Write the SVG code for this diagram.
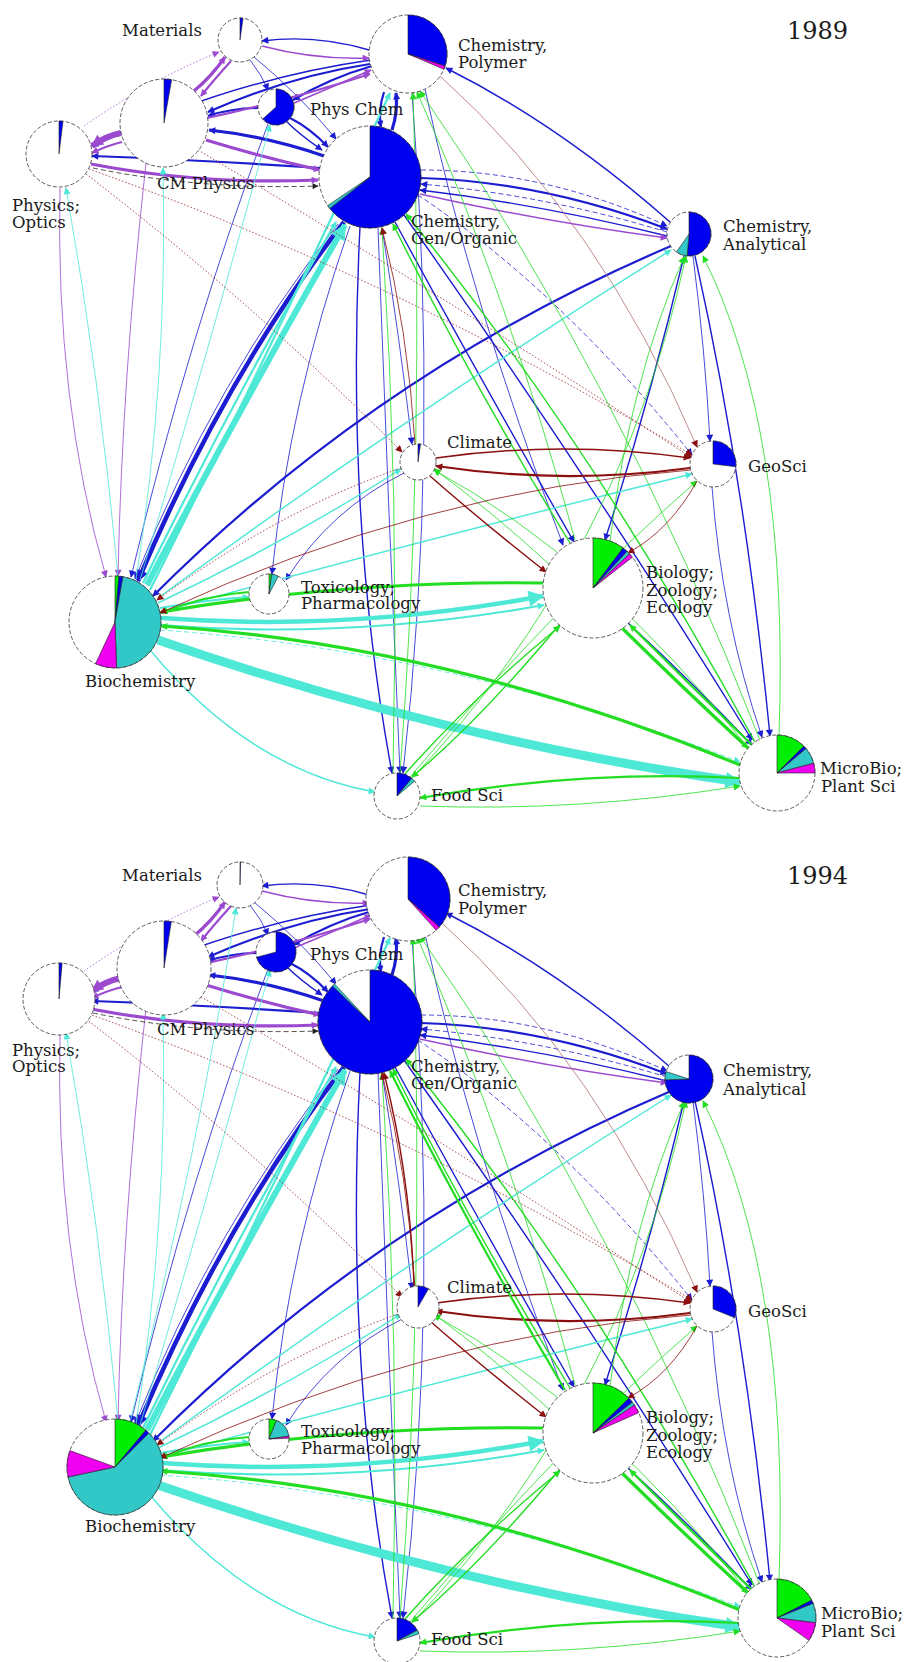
<svg xmlns="http://www.w3.org/2000/svg" xmlns:xlink="http://www.w3.org/1999/xlink" width="907" height="1662" viewBox="0 0 907 1662">
<style>
.bg{fill:#fff}
.nc{fill:#fff;stroke:#333;stroke-width:0.8;stroke-dasharray:4 2}
.sl{stroke:#222;stroke-width:0.6;stroke-linejoin:round}
.sB{fill:#0000f0}.sG{fill:#00ee00}.sT{fill:#33c8c8}.sM{fill:#f000f0}
text{font-family:"DejaVu Serif","Liberation Serif",serif;font-size:16.5px;fill:#1a1a1a}
.yr{font-size:24px}
.e{fill:none}
.w1{stroke-width:0.8}.w2{stroke-width:1.4}.w3{stroke-width:2.2}.w4{stroke-width:3.2}.w5{stroke-width:4.5}.w6{stroke-width:6}.w8{stroke-width:9}
.d{stroke-dasharray:5 3}.o{stroke-dasharray:1.5 2}
.b{stroke:#1c1cd0;marker-end:url(#mb)}.b.L{marker-end:url(#mbL)}
.p{stroke:#9b4ad0;marker-end:url(#mp)}.p.L{marker-end:url(#mpL)}
.t{stroke:#4de8d6;marker-end:url(#mt)}.t.L{marker-end:url(#mtL)}
.g{stroke:#22dd22;marker-end:url(#mg)}.g.L{marker-end:url(#mgL)}
.r{stroke:#8b0f0f;marker-end:url(#mr)}
.rl{stroke:#b07070;marker-end:url(#mr)}
.k{stroke:#222;marker-end:url(#mk)}
</style>
<defs>
<marker id="mb" viewBox="0 0 10 10" refX="9" refY="5" markerWidth="9" markerHeight="7" markerUnits="userSpaceOnUse" orient="auto"><path d="M0,0L10,5L0,10z" fill="#1c1cd0"/></marker>
<marker id="mbL" viewBox="0 0 10 10" refX="9" refY="5" markerWidth="16" markerHeight="12" markerUnits="userSpaceOnUse" orient="auto"><path d="M0,0L10,5L0,10z" fill="#1c1cd0"/></marker>
<marker id="mp" viewBox="0 0 10 10" refX="9" refY="5" markerWidth="9" markerHeight="7" markerUnits="userSpaceOnUse" orient="auto"><path d="M0,0L10,5L0,10z" fill="#9b4ad0"/></marker>
<marker id="mpL" viewBox="0 0 10 10" refX="9" refY="5" markerWidth="16" markerHeight="12" markerUnits="userSpaceOnUse" orient="auto"><path d="M0,0L10,5L0,10z" fill="#9b4ad0"/></marker>
<marker id="mt" viewBox="0 0 10 10" refX="9" refY="5" markerWidth="9" markerHeight="7" markerUnits="userSpaceOnUse" orient="auto"><path d="M0,0L10,5L0,10z" fill="#4de8d6"/></marker>
<marker id="mtL" viewBox="0 0 10 10" refX="9" refY="5" markerWidth="20" markerHeight="16" markerUnits="userSpaceOnUse" orient="auto"><path d="M0,0L10,5L0,10z" fill="#4de8d6"/></marker>
<marker id="mg" viewBox="0 0 10 10" refX="9" refY="5" markerWidth="9" markerHeight="7" markerUnits="userSpaceOnUse" orient="auto"><path d="M0,0L10,5L0,10z" fill="#22dd22"/></marker>
<marker id="mgL" viewBox="0 0 10 10" refX="9" refY="5" markerWidth="16" markerHeight="12" markerUnits="userSpaceOnUse" orient="auto"><path d="M0,0L10,5L0,10z" fill="#22dd22"/></marker>
<marker id="mr" viewBox="0 0 10 10" refX="9" refY="5" markerWidth="9" markerHeight="7" markerUnits="userSpaceOnUse" orient="auto"><path d="M0,0L10,5L0,10z" fill="#8b0f0f"/></marker>
<marker id="mk" viewBox="0 0 10 10" refX="9" refY="5" markerWidth="8" markerHeight="6" markerUnits="userSpaceOnUse" orient="auto"><path d="M0,0L10,5L0,10z" fill="#222"/></marker>
</defs>
<rect class="bg" x="0" y="0" width="907" height="1662"/>

<g id="panel-1989">
<g id="connectors-1989">
<path class="e b w2" d="M369,50 Q315,34 262,41"/>
<path class="e b w3" d="M370,64 Q290,76 208,112"/>
<path class="e b w2" d="M371,60 Q230,80 92,146"/>
<path class="e b w4" d="M324,156 Q265,136 209,130"/>
<path class="e b w3" d="M320,168 Q200,160 92,156"/>
<path class="e b w3" d="M258,108 Q232,108 208,116"/>
<path class="e b w3" d="M290,118 Q310,128 328,147"/>
<path class="e b w2" d="M286,121 Q300,135 322,150"/>
<path class="e b w4" d="M392,130 Q398,112 396,93"/>
<path class="e b w3" d="M384,92 Q378,110 381,127"/>
<path class="e b w3" d="M372,66 Q330,78 293,100"/>
<path class="e b w1" d="M254,57 Q300,95 336,139"/>
<path class="e b w1" d="M250,60 Q262,75 268,90"/>
<path class="e b w3" d="M421,178 Q545,182 667,229"/>
<path class="e b w2" d="M667,236 Q545,205 420,190"/>
<path class="e b w2" d="M670,222 Q560,125 446,68"/>
<path class="e b w5 L" d="M344,222 Q225,375 138,581"/>
<path class="e b w1" d="M338,224 Q215,380 135,579"/>
<path class="e b w1" d="M268,124 Q190,330 131,577"/>
<path class="e b w3" d="M671,246 Q378,371 153,596"/>
<path class="e b w1" d="M350,226 Q289,401 272,574"/>
<path class="e b w2" d="M360,227 Q345,520 392,773"/>
<path class="e b w1" d="M378,228 Q388,500 400,773"/>
<path class="e b w1" d="M412,93 Q440,450 403,773"/>
<path class="e b w2" d="M395,222 Q478,375 574,542"/>
<path class="e b w1" d="M425,89 Q470,300 563,545"/>
<path class="e b w2" d="M684,256 Q650,400 605,540"/>
<path class="e b w2" d="M404,215 Q585,470 752,740"/>
<path class="e b w2" d="M695,256 Q745,480 770,736"/>
<path class="e b w1" d="M712,487 Q722,620 762,737"/>
<path class="e b w2" d="M628,623 Q690,680 752,745"/>
<path class="e b w1" d="M693,256 Q705,350 710,441"/>
<path class="e b w1" d="M404,473 Q330,510 286,580"/>
<path class="e b w1 d" d="M418,195 Q560,290 692,455"/>
<path class="e b w1 d" d="M421,170 Q545,170 667,226"/>
<path class="e b w1 d" d="M667,232 Q545,195 421,184"/>
<path class="e b w1" d="M382,228 Q400,340 412,444"/>
<path class="e p w2" d="M262,46 Q315,60 369,58"/>
<path class="e p w4" d="M194,91 Q212,76 225,57"/>
<path class="e p w3" d="M231,61 Q212,82 201,96"/>
<path class="e p w6 L" d="M121,133 Q106,136 92,146"/>
<path class="e p w3" d="M122,142 Q106,146 92,153"/>
<path class="e p w4" d="M91,164 Q200,185 318,180"/>
<path class="e p w4" d="M206,140 Q265,158 320,170"/>
<path class="e p w3" d="M207,118 Q290,100 370,74"/>
<path class="e p w2" d="M294,103 Q330,88 371,70"/>
<path class="e p w2" d="M420,194 Q545,222 667,238"/>
<path class="e p w1" d="M60,188 Q55,400 106,577"/>
<path class="e p w1" d="M146,163 Q122,380 118,576"/>
<path class="e p w1 o" d="M84,126 Q150,80 219,52"/>
<path class="e k w1 d" d="M93,168 Q200,190 318,186"/>
<path class="e t w6 L" d="M147,585 Q250,390 345,225"/>
<path class="e t w3" d="M143,583 Q235,395 336,222"/>
<path class="e t w3" d="M150,590 Q280,330 390,93"/>
<path class="e t w1" d="M140,580 Q200,380 270,125"/>
<path class="e t w1" d="M136,579 Q168,380 163,168"/>
<path class="e t w1" d="M118,576 Q100,380 66,188"/>
<path class="e t w8 L" d="M158,640 Q450,741 740,782"/>
<path class="e t w2" d="M150,650 Q250,770 375,792"/>
<path class="e t w5 L" d="M161,618 Q350,632 543,596"/>
<path class="e t w3" d="M160,625 Q350,640 544,605"/>
<path class="e t w3" d="M160,608 Q205,600 249,597"/>
<path class="e t w2" d="M158,603 Q290,540 401,469"/>
<path class="e t w2" d="M160,612 Q420,540 692,474"/>
<path class="e t w2" d="M158,598 Q400,420 671,250"/>
<path class="e t w1 d" d="M160,630 Q450,650 740,762"/>
<path class="e g w4" d="M543,583 Q350,580 161,612"/>
<path class="e g w3" d="M249,592 Q205,595 161,613"/>
<path class="e g w4" d="M740,765 Q450,645 161,626"/>
<path class="e g w4" d="M622,628 Q685,690 748,748"/>
<path class="e g w3" d="M752,745 Q690,685 630,625"/>
<path class="e g w2" d="M570,543 Q470,380 393,224"/>
<path class="e g w2" d="M755,742 Q590,440 406,214"/>
<path class="e g w1" d="M760,740 Q620,380 420,91"/>
<path class="e g w1" d="M575,540 Q510,300 417,92"/>
<path class="e g w1" d="M779,735 Q790,430 703,256"/>
<path class="e g w1" d="M610,541 Q630,380 684,257"/>
<path class="e g w1" d="M410,777 Q560,600 697,481"/>
<path class="e g w2" d="M405,774 Q470,700 560,626"/>
<path class="e g w1" d="M750,750 Q600,560 434,470"/>
<path class="e g w1" d="M550,565 Q490,510 434,469"/>
<path class="e g w3" d="M740,778 Q580,770 420,798"/>
<path class="e g w1" d="M420,806 Q580,812 740,786"/>
<path class="e g w2" d="M560,624 Q480,720 412,777"/>
<path class="e g w1" d="M393,773 Q400,500 382,228"/>
<path class="e g w1" d="M412,778 Q620,560 686,256"/>
<path class="e g w1" d="M400,773 Q425,450 413,93"/>
<path class="e r w2" d="M436,458 Q563,440 690,458"/>
<path class="e r w3" d="M690,468 Q563,485 436,466"/>
<path class="e r w2" d="M430,476 Q480,520 546,572"/>
<path class="e r w1" d="M697,481 Q670,530 628,553"/>
<path class="e r w1" d="M691,470 Q425,490 160,613"/>
<path class="e r w1 o" d="M401,468 Q280,510 157,600"/>
<path class="e r w1 o" d="M86,174 Q250,300 402,452"/>
<path class="e r w1 o" d="M89,169 Q400,280 692,455"/>
<path class="e rl w1" d="M440,76 Q600,220 697,447"/>
<path class="e r w1" d="M415,444 Q408,330 382,228"/>
<path class="e r w1 o" d="M198,150 Q450,300 692,458"/>
</g>

<g id="n89-materials"><circle class="nc" cx="240" cy="40" r="22"/><path class="sl sB" d="M240,40 L240,18 A22,22 0 0 1 243.06,18.22 Z"/><text x="122" y="36">Materials</text></g>
<g id="n89-polymer"><circle class="nc" cx="408" cy="54" r="39"/><path class="sl sB" d="M408,54 L408,15 A39,39 0 0 1 445.09,66.05 Z"/><path class="sl sM" d="M408,54 L445.09,66.05 A39,39 0 0 1 443.9,69.24 Z"/><text x="458" y="51">Chemistry,</text><text x="458" y="68">Polymer</text></g>
<g id="n89-physchem"><circle class="nc" cx="276" cy="107" r="18"/><path class="sl sB" d="M276,107 L276,89 A18,18 0 1 1 262.62,119.04 Z"/><text x="310" y="115">Phys Chem</text></g>
<g id="n89-cmphysics"><circle class="nc" cx="164" cy="123" r="44"/><path class="sl sB" d="M164,123 L164,79 A44,44 0 0 1 171.64,79.67 Z"/><text x="157" y="189">CM Physics</text></g>
<g id="n89-optics"><circle class="nc" cx="59" cy="154" r="33"/><path class="sl sB" d="M59,154 L59,121 A33,33 0 0 1 63.02,121.25 Z"/><text x="12" y="211">Physics;</text><text x="12" y="228">Optics</text></g>
<g id="n89-genorganic"><circle class="nc" cx="370" cy="177" r="51"/><path class="sl sB" d="M370,177 L370,126 A51,51 0 1 1 329.81,208.40 Z"/><path class="sl sT" d="M370,177 L329.81,208.40 A51,51 0 0 1 327.72,205.52 Z"/><text x="411" y="227">Chemistry,</text><text x="411" y="244">Gen/Organic</text></g>
<g id="n89-analytical"><circle class="nc" cx="689" cy="234" r="22"/><path class="sl sB" d="M689,234 L689,212 A22,22 0 1 1 687.08,255.92 Z"/><path class="sl sT" d="M689,234 L687.08,255.92 A22,22 0 0 1 676.38,252.02 Z"/><text x="723" y="232">Chemistry,</text><text x="723" y="250">Analytical</text></g>
<g id="n89-climate"><circle class="nc" cx="418" cy="462" r="18"/><path class="sl sB" d="M418,462 L418,444 A18,18 0 0 1 420.5,444.18 Z"/><text x="447" y="448">Climate</text></g>
<g id="n89-geosci"><circle class="nc" cx="713" cy="464" r="23"/><path class="sl sB" d="M713,464 L713,441 A23,23 0 0 1 735.83,466.80 Z"/><text x="748" y="472">GeoSci</text></g>
<g id="n89-toxicology"><circle class="nc" cx="269" cy="594" r="20"/><path class="sl sG" d="M269,594 L269,574 A20,20 0 0 1 271.78,574.19 Z"/><path class="sl sT" d="M269,594 L271.78,574.19 A20,20 0 0 1 278.39,576.34 Z"/><text x="301" y="593">Toxicology;</text><text x="301" y="609">Pharmacology</text></g>
<g id="n89-biology"><circle class="nc" cx="593" cy="588" r="50"/><path class="sl sG" d="M593,588 L593,538 A50,50 0 0 1 623.09,548.07 Z"/><path class="sl sB" d="M593,588 L623.09,548.07 A50,50 0 0 1 627.10,551.43 Z"/><path class="sl sT" d="M593,588 L627.10,551.43 A50,50 0 0 1 629.57,553.90 Z"/><path class="sl sM" d="M593,588 L629.57,553.90 A50,50 0 0 1 632.40,557.22 Z"/><text x="646" y="578">Biology;</text><text x="646" y="596">Zoology;</text><text x="646" y="613">Ecology</text></g>
<g id="n89-biochemistry"><circle class="nc" cx="115" cy="622" r="46"/><path class="sl sG" d="M115,622 L115,576 A46,46 0 0 1 119.01,576.18 Z"/><path class="sl sB" d="M115,622 L119.01,576.18 A46,46 0 0 1 122.99,576.70 Z"/><path class="sl sT" d="M115,622 L122.99,576.70 A46,46 0 0 1 116.61,667.97 Z"/><path class="sl sM" d="M115,622 L116.61,667.97 A46,46 0 0 1 95.56,663.69 Z"/><text x="85" y="687">Biochemistry</text></g>
<g id="n89-foodsci"><circle class="nc" cx="397" cy="796" r="23"/><path class="sl sB" d="M397,796 L397,773 A23,23 0 0 1 411.78,778.38 Z"/><path class="sl sT" d="M397,796 L411.78,778.38 A23,23 0 0 1 414.62,781.21 Z"/><text x="431" y="801">Food Sci</text></g>
<g id="n89-microbio"><circle class="nc" cx="777" cy="773" r="38"/><path class="sl sG" d="M777,773 L777,735 A38,38 0 0 1 803.87,746.13 Z"/><path class="sl sB" d="M777,773 L803.87,746.13 A38,38 0 0 1 806.11,748.57 Z"/><path class="sl sT" d="M777,773 L806.11,748.57 A38,38 0 0 1 813.70,763.16 Z"/><path class="sl sM" d="M777,773 L813.70,763.16 A38,38 0 0 1 815,773 Z"/><text x="820" y="774">MicroBio;</text><text x="821" y="792">Plant Sci</text></g>
<text id="year-1989" class="yr" x="787" y="39">1989</text>
</g>

<g id="panel-1994" transform="translate(0,845)">
<g id="connectors-1994">
<use href="#connectors-1989" xlink:href="#connectors-1989"/>
<path class="e t w1" d="M130,577 Q200,300 236,63"/>
<path class="e r w2" d="M414,441 Q410,330 384,228"/>
<path class="e g w3" d="M565,545 Q470,385 390,226"/>
</g>
<g id="n94-materials"><circle class="nc" cx="240" cy="40" r="23"/><path class="sl sB" d="M240,40 L240,17 A23,23 0 0 1 240.6,17.01 Z"/><text x="122" y="36">Materials</text></g>
<g id="n94-polymer"><circle class="nc" cx="408" cy="54" r="42"/><path class="sl sB" d="M408,54 L408,12 A42,42 0 0 1 439.21,82.10 Z"/><path class="sl sM" d="M408,54 L439.21,82.10 A42,42 0 0 1 436.10,85.21 Z"/><text x="458" y="51">Chemistry,</text><text x="458" y="69">Polymer</text></g>
<g id="n94-physchem"><circle class="nc" cx="276" cy="107" r="20"/><path class="sl sB" d="M276,107 L276,87 A20,20 0 1 1 256.68,112.18 Z"/><text x="310" y="115">Phys Chem</text></g>
<g id="n94-cmphysics"><circle class="nc" cx="164" cy="123" r="47"/><path class="sl sB" d="M164,123 L164,76 A47,47 0 0 1 171.35,76.57 Z"/><text x="157" y="190">CM Physics</text></g>
<g id="n94-optics"><circle class="nc" cx="59" cy="154" r="36"/><path class="sl sB" d="M59,154 L59,118 A36,36 0 0 1 62.14,118.14 Z"/><text x="12" y="211">Physics;</text><text x="12" y="227">Optics</text></g>
<g id="n94-genorganic"><circle class="nc" cx="370" cy="177" r="52"/><path class="sl sB" d="M370,177 L370,125 A52,52 0 1 1 332.59,140.88 Z"/><path class="sl sT" d="M370,177 L332.59,140.88 A52,52 0 0 1 334.54,138.97 Z"/><text x="411" y="227">Chemistry,</text><text x="411" y="244">Gen/Organic</text></g>
<g id="n94-analytical"><circle class="nc" cx="689" cy="234" r="24"/><path class="sl sB" d="M689,234 L689,210 A24,24 0 1 1 665.01,234.84 Z"/><path class="sl sT" d="M689,234 L665.01,234.84 A24,24 0 0 1 666.17,226.58 Z"/><text x="723" y="231">Chemistry,</text><text x="723" y="250">Analytical</text></g>
<g id="n94-climate"><circle class="nc" cx="418" cy="462" r="21"/><path class="sl sB" d="M418,462 L418,441 A21,21 0 0 1 428.5,443.81 Z"/><text x="447" y="448">Climate</text></g>
<g id="n94-geosci"><circle class="nc" cx="713" cy="464" r="23"/><path class="sl sB" d="M713,464 L713,441 A23,23 0 0 1 734.33,472.62 Z"/><text x="748" y="472">GeoSci</text></g>
<g id="n94-toxicology"><circle class="nc" cx="269" cy="594" r="20"/><path class="sl sG" d="M269,594 L269,574 A20,20 0 0 1 276.49,575.46 Z"/><path class="sl sT" d="M269,594 L276.49,575.46 A20,20 0 0 1 288.81,591.22 Z"/><path class="sl sM" d="M269,594 L288.81,591.22 A20,20 0 0 1 288.99,593.30 Z"/><text x="301" y="592">Toxicology;</text><text x="301" y="609">Pharmacology</text></g>
<g id="n94-biology"><circle class="nc" cx="593" cy="588" r="50"/><path class="sl sG" d="M593,588 L593,538 A50,50 0 0 1 628.97,553.27 Z"/><path class="sl sB" d="M593,588 L628.97,553.27 A50,50 0 0 1 632.40,557.22 Z"/><path class="sl sT" d="M593,588 L632.40,557.22 A50,50 0 0 1 634.45,560.04 Z"/><path class="sl sM" d="M593,588 L634.45,560.04 A50,50 0 0 1 638.68,567.66 Z"/><text x="646" y="578">Biology;</text><text x="646" y="596">Zoology;</text><text x="646" y="613">Ecology</text></g>
<g id="n94-biochemistry"><circle class="nc" cx="115" cy="622" r="48"/><path class="sl sG" d="M115,622 L115,574 A48,48 0 0 1 145.85,585.23 Z"/><path class="sl sB" d="M115,622 L145.85,585.23 A48,48 0 0 1 148.94,588.06 Z"/><path class="sl sT" d="M115,622 L148.94,588.06 A48,48 0 1 1 68.05,631.98 Z"/><path class="sl sM" d="M115,622 L68.05,631.98 A48,48 0 0 1 69.89,605.58 Z"/><text x="85" y="687">Biochemistry</text></g>
<g id="n94-foodsci"><circle class="nc" cx="397" cy="796" r="23"/><path class="sl sB" d="M397,796 L397,773 A23,23 0 0 1 417.31,785.21 Z"/><path class="sl sT" d="M397,796 L417.31,785.21 A23,23 0 0 1 418.87,788.89 Z"/><text x="431" y="800">Food Sci</text></g>
<g id="n94-microbio"><circle class="nc" cx="777" cy="773" r="39"/><path class="sl sG" d="M777,773 L777,734 A39,39 0 0 1 811.75,755.29 Z"/><path class="sl sB" d="M777,773 L811.75,755.29 A39,39 0 0 1 813.16,758.38 Z"/><path class="sl sT" d="M777,773 L813.16,758.38 A39,39 0 0 1 815.71,777.75 Z"/><path class="sl sM" d="M777,773 L815.71,777.75 A39,39 0 0 1 808.94,795.37 Z"/><text x="821" y="774">MicroBio;</text><text x="821" y="792">Plant Sci</text></g>
<text id="year-1994" class="yr" x="787" y="39">1994</text>
</g>
</svg>
